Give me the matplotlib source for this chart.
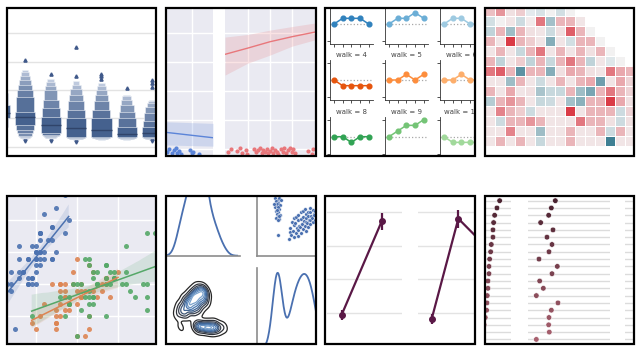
import numpy as np
import matplotlib
matplotlib.use("Agg")
import matplotlib.pyplot as plt
import seaborn as sns
from matplotlib.path import Path
from matplotlib.patches import PathPatch, Rectangle
from matplotlib.colors import LinearSegmentedColormap

# ---------------- data ----------------
# panel 1: letter-value (boxen) plot, levels listed inner -> outer
p1_pos = [0, 1, 2, 3, 4, 5, 6]
p1_median = [1.20, 1.045, 0.775, 0.657, 0.599, 0.446, 0.505]
p1_upper = [
    [1.48, 1.90, 2.20, 2.40],
    [1.244, 1.749, 2.007, 2.183, 2.359, 2.500, 2.617, 2.711],
    [1.045, 1.350, 1.655, 1.984, 2.124, 2.265, 2.383],
    [1.009, 1.303, 1.596, 1.831, 2.031, 2.183, 2.300],
    [1.009, 1.303, 1.596, 1.831, 2.007, 2.148, 2.242],
    [0.716, 1.009, 1.244, 1.479, 1.655, 1.772, 1.831],
    [0.716, 0.927, 1.185, 1.397, 1.538, 1.596, 1.655],
]
p1_lower = [
    [1.00, 0.70, 0.50, 0.40],
    [0.775, 0.599, 0.481, 0.399, 0.352, 0.329, 0.305, 0.293],
    [0.505, 0.434, 0.387, 0.352, 0.329, 0.317, 0.305],
    [0.364, 0.329, 0.305, 0.293, 0.282, 0.270, 0.258],
    [0.340, 0.317, 0.305, 0.293, 0.282, 0.270, 0.258],
    [0.340, 0.317, 0.305, 0.293, 0.282, 0.270, 0.258],
    [0.340, 0.317, 0.305, 0.293, 0.282, 0.270, 0.258],
]
p1_out_hi = [[], [3.063], [2.570], [2.50, 3.509], [2.383, 2.477, 2.570], [2.066], [2.101, 2.242, 2.359]]
p1_out_lo = [[], [0.20], [0.20], [0.176], [], [], [0.20]]
p1_grid = [0, 1, 2, 3, 4]

# panel 2: faceted logistic fits
p2_blue_fit_x = [28.5, 49.6]
p2_blue_fit_y = [0.115, 0.078]
p2_blue_lo = [0.028, 0.020]
p2_blue_hi = [0.188, 0.177]
p2_blue_x = [29.1, 30.0, 31.0, 32.1, 33.0, 33.6, 34.5, 35.1, 39.3, 40.0, 40.7, 43.4]
p2_blue_y = [-0.019, -0.002, -0.030, -0.007, 0.005, -0.025, -0.012, -0.034, -0.007, -0.030, -0.019, -0.034]
p2_red_fit_x = [9.8, 20, 30, 40, 50.6]
p2_red_fit_y = [0.653, 0.696, 0.740, 0.775, 0.808]
p2_red_lo = [0.510, 0.592, 0.648, 0.710, 0.755]
p2_red_hi = [0.772, 0.790, 0.820, 0.845, 0.870]
p2_red_x = [11.3, 12.3, 15.3, 16.5, 17.3, 19.2, 19.8, 22.8, 23.7, 24.7, 25.5, 26.2, 27.0, 27.7,
            28.5, 29.2, 30.0, 30.7, 31.5, 32.2, 33.0, 33.7, 34.8, 35.7, 36.3, 37.2, 38.2, 38.9,
            39.7, 40.4, 41.2, 47.2, 48.7, 49.4]
p2_red_y = [-0.018, -0.002, -0.011, 0.005, -0.030, -0.007, -0.034, -0.002, -0.018, -0.007,
            0.005, -0.025, -0.007, -0.018, -0.002, -0.030, -0.011, 0.005, -0.025, -0.007,
            -0.018, -0.034, -0.002, -0.018, 0.005, -0.025, -0.007, 0.005, -0.018, -0.002,
            -0.030, -0.011, -0.034, -0.002]

# panel 3: random walks on facets
p3_steps = [0, 1, 2, 3, 4]
p3_walk_ids = [[0, 1, 2], [4, 5, 6], [8, 9, 10]]
p3_walks = {
    0: [0, 1, 1, 1, 0], 1: [0, 1, 1, 2, 1], 2: [0, 1, 1, 0, 0],
    4: [0, -1, -1, -1, -1], 5: [0, 0, 1, 0, 1], 6: [0, 0, 1, 0, 0],
    8: [0, 0, -1, 0, 0], 9: [0, 1, 2, 2, 3], 10: [0, -1, -1, -1, -1],
}

# panel 4: lower-triangle correlation matrix (visible rows only)
p4_rows = [
    [0.08, 0.15, 0.03, 0.06, -0.02, -0.04, 0.00, -0.05, 0.00],
    [-0.05, 0.00, 0.02, -0.06, 0.01, 0.20, -0.13, 0.10, 0.10, 0.02],
    [-0.08, 0.10, -0.14, 0.10, 0.03, 0.02, -0.06, 0.03, 0.24, 0.10, 0.00],
    [0.10, 0.02, 0.30, 0.10, 0.06, 0.02, -0.18, 0.02, -0.05, 0.10, 0.10, 0.00],
    [0.02, 0.10, 0.02, -0.07, 0.10, 0.20, 0.02, 0.10, 0.02, 0.10, 0.03, 0.10, 0.00],
    [0.10, -0.08, 0.02, 0.06, -0.08, 0.10, -0.07, 0.10, 0.20, 0.10, -0.08, 0.02, -0.03, 0.00],
    [0.20, 0.24, 0.10, -0.25, 0.10, 0.10, -0.18, 0.03, 0.12, 0.10, 0.03, 0.02, 0.20, 0.12, 0.10],
    [0.02, 0.02, -0.14, 0.10, 0.02, -0.06, 0.02, 0.10, 0.02, 0.10, 0.12, -0.22, 0.02, 0.12, 0.05],
    [0.10, 0.02, 0.12, 0.02, 0.03, -0.12, -0.07, -0.07, 0.10, -0.14, -0.20, 0.10, 0.20, 0.10, 0.05],
    [-0.10, 0.10, 0.15, 0.10, 0.02, -0.07, -0.06, 0.02, -0.13, -0.17, 0.10, 0.10, 0.30, 0.12, 0.03],
    [0.02, 0.18, 0.10, 0.06, -0.06, 0.02, 0.02, 0.02, 0.30, 0.02, 0.10, 0.10, 0.10, -0.06, 0.05],
    [0.02, -0.06, 0.10, 0.10, 0.15, 0.10, 0.02, 0.02, 0.02, 0.20, 0.10, 0.10, 0.03, -0.06, 0.03],
    [0.02, 0.02, 0.18, 0.02, 0.02, -0.14, 0.02, 0.02, 0.10, 0.02, 0.02, 0.10, -0.06, 0.10, 0.02],
    [0.02, 0.10, 0.02, 0.10, 0.02, -0.07, 0.02, 0.02, 0.10, 0.02, 0.02, 0.02, -0.30, 0.02, 0.02],
]

# panel 5: iris sepal length / width
setosa_sl = [5.1, 4.9, 4.7, 4.6, 5.0, 5.4, 4.6, 5.0, 4.4, 4.9, 5.4, 4.8, 4.8, 4.3, 5.8, 5.7, 5.4, 5.1, 5.7, 5.1,
             5.4, 5.1, 4.6, 5.1, 4.8, 5.0, 5.0, 5.2, 5.2, 4.7, 4.8, 5.4, 5.2, 5.5, 4.9, 5.0, 5.5, 4.9, 4.4, 5.1,
             5.0, 4.5, 4.4, 5.0, 5.1, 4.8, 5.1, 4.6, 5.3, 5.0]
setosa_sw = [3.5, 3.0, 3.2, 3.1, 3.6, 3.9, 3.4, 3.4, 2.9, 3.1, 3.7, 3.4, 3.0, 3.0, 4.0, 4.4, 3.9, 3.5, 3.8, 3.8,
             3.4, 3.7, 3.6, 3.3, 3.4, 3.0, 3.4, 3.5, 3.4, 3.2, 3.1, 3.4, 4.1, 4.2, 3.1, 3.2, 3.5, 3.6, 3.0, 3.4,
             3.5, 2.3, 3.2, 3.5, 3.8, 3.0, 3.8, 3.2, 3.7, 3.3]
versicolor_sl = [7.0, 6.4, 6.9, 5.5, 6.5, 5.7, 6.3, 4.9, 6.6, 5.2, 5.0, 5.9, 6.0, 6.1, 5.6, 6.7, 5.6, 5.8, 6.2, 5.6,
                 5.9, 6.1, 6.3, 6.1, 6.4, 6.6, 6.8, 6.7, 6.0, 5.7, 5.5, 5.5, 5.8, 6.0, 5.4, 6.0, 6.7, 6.3, 5.6, 5.5,
                 5.5, 6.1, 5.8, 5.0, 5.6, 5.7, 5.7, 6.2, 5.1, 5.7]
versicolor_sw = [3.2, 3.2, 3.1, 2.3, 2.8, 2.8, 3.3, 2.4, 2.9, 2.7, 2.0, 3.0, 2.2, 2.9, 2.9, 3.1, 3.0, 2.7, 2.2, 2.5,
                 3.2, 2.8, 2.5, 2.8, 2.9, 3.0, 2.8, 3.0, 2.9, 2.6, 2.4, 2.4, 2.7, 2.7, 3.0, 3.4, 3.1, 2.3, 3.0, 2.5,
                 2.6, 3.0, 2.6, 2.3, 2.7, 3.0, 2.9, 2.9, 2.5, 2.8]
virginica_sl = [6.3, 5.8, 7.1, 6.3, 6.5, 7.6, 4.9, 7.3, 6.7, 7.2, 6.5, 6.4, 6.8, 5.7, 5.8, 6.4, 6.5, 7.7, 7.7, 6.0,
                6.9, 5.6, 7.7, 6.3, 6.7, 7.2, 6.2, 6.1, 6.4, 7.2, 7.4, 7.9, 6.4, 6.3, 6.1, 7.7, 6.3, 6.4, 6.0, 6.9,
                6.7, 6.9, 5.8, 6.8, 6.7, 6.7, 6.3, 6.5, 6.2, 5.9]
virginica_sw = [3.3, 2.7, 3.0, 2.9, 3.0, 3.0, 2.5, 2.9, 2.5, 3.6, 3.2, 2.7, 3.0, 2.5, 2.8, 3.2, 3.0, 3.8, 2.6, 2.2,
                3.2, 2.8, 2.8, 2.7, 3.3, 3.2, 2.8, 3.0, 2.8, 3.0, 2.8, 3.8, 2.8, 2.8, 2.6, 3.0, 3.4, 3.1, 3.0, 3.1,
                3.1, 3.1, 2.7, 3.2, 3.3, 3.0, 2.5, 3.0, 3.4, 3.0]

# panel 6: two-cluster sample for the pair grid
p6_big_b = [4.0, 4.1, 4.3, 4.2, 4.4, 4.6, 4.5, 4.7, 4.6, 4.9, 5.0, 4.8, 4.9, 5.2, 5.1, 5.3, 5.2, 5.2,
            5.5, 5.4, 5.6, 5.5, 5.5, 5.8, 5.7, 5.9, 5.8, 5.8, 6.1, 6.0, 6.2, 6.1, 6.1, 6.0, 6.4, 6.3,
            6.5, 6.4, 6.4, 6.7, 6.6, 6.8, 6.7, 6.7, 7.0, 6.9, 7.1, 7.0, 7.3, 7.2, 7.3, 7.6, 7.5]
p6_big_a = [2.1, 3.0, 2.6, 3.4, 4.2, 2.3, 3.1, 3.8, 4.7, 2.8, 3.5, 4.1, 4.8, 2.5, 3.2, 3.7, 4.4, 5.1,
            2.9, 3.6, 4.0, 4.6, 5.4, 3.3, 3.9, 4.3, 4.8, 5.6, 3.1, 3.7, 4.2, 4.7, 5.2, 5.8, 3.6, 4.1,
            4.5, 5.0, 5.5, 3.9, 4.4, 4.9, 5.4, 5.9, 4.2, 4.7, 5.2, 5.7, 4.5, 5.1, 5.6, 4.8, 5.4]
p6_small_b = [2.3, 2.6, 2.8, 2.4, 2.7, 2.5, 2.9, 2.3, 2.6, 2.8, 2.4, 2.7, 2.5, 2.9, 2.6, 2.4, 2.8, 2.6,
              3.0, 2.2, 2.7, 2.5, 2.8, 2.6, 2.5, 2.7]
p6_small_a = [7.2, 7.0, 7.2, 6.8, 6.6, 6.4, 6.3, 6.1, 5.9, 5.8, 5.6, 5.4, 5.2, 5.1, 4.9, 4.7, 4.6, 4.4,
              6.9, 6.5, 6.1, 5.7, 5.0, 2.6, 7.7, 8.0]

# panel 7: point plot facets
p7_left_x = [0, 1]
p7_left_y = [0.95, 3.72]
p7_left_err = [0.15, 0.25]
p7_right_x = [0, 1, 2]
p7_right_y = [0.82, 3.80, 3.00]
p7_right_err = [0.14, 0.27, 0.20]

# panel 8: dot plot, two visible columns
p8_rows = list(range(20))
p8_col1 = [21.43, 20.61, 19.90, 19.59, 19.39, 19.39, 18.88, 18.68, 18.37, 18.17,
           18.17, 17.86, 17.86, 17.65, 17.55, 17.45, 17.04, 16.70, 16.40, 16.10]
p8_col2 = [8.36, 7.14, 6.32, 3.87, 7.65, 5.81, 7.34, 6.42, 3.36, 8.97,
           7.34, 3.57, 4.69, 2.55, 9.17, 7.14, 6.42, 6.32, 6.52, 2.55]

# ---------------- layout ----------------
W, H = 640, 352
fig = plt.figure(figsize=(6.4, 3.52), dpi=100)
fig.patch.set_facecolor("white")

FRAMES = [(7, 7.5, 156, 156), (166, 7.5, 315.5, 156), (325, 7.5, 474.5, 156), (485, 7.5, 634, 156),
          (7, 195.5, 156, 344), (166, 195.5, 315.5, 344), (325, 195.5, 474.5, 344), (485, 195.5, 634, 344)]


def px_axes(x0, y0, x1, y1):
    a = fig.add_axes([x0 / W, 1 - y1 / H, (x1 - x0) / W, (y1 - y0) / H])
    a.patch.set_alpha(0)
    return a


def bare(ax):
    for s in ax.spines.values():
        s.set_visible(False)
    ax.tick_params(length=0, labelbottom=False, labelleft=False)
    ax.set_xlabel("")
    ax.set_ylabel("")


# ---- panel 1: boxen plot
ax = px_axes(7, 7.5, 156, 156)
ax.set_xlim(0.28, 6.15)
ax.set_ylim(-0.32, 4.9)
ax.set_xticks([])
ax.set_yticks(p1_grid)
ax.yaxis.grid(True, color="#e3e3e3", lw=1)
ax.set_axisbelow(True)
bare(ax)
boxcmap = LinearSegmentedColormap.from_list("boxen", ["#45618e", "#bfcade"])
for x, med, up, lo, oh, ol in zip(p1_pos, p1_median, p1_upper, p1_lower, p1_out_hi, p1_out_lo):
    n = len(up)
    for j in range(n - 1, -1, -1):
        w = 0.8 * (1 - j / (n + 2))
        ax.bar(x, up[j] - lo[j], bottom=lo[j], width=w, color=boxcmap(j / (n - 1)),
               edgecolor="#eef1f6", linewidth=0.4, zorder=2)
    ax.hlines(med, x - 0.4, x + 0.4, color="#30446a", lw=1, zorder=3)
    ax.plot([x] * len(oh), oh, "^", ms=2.3, color="#40598a", zorder=3)
    ax.plot([x] * len(ol), ol, "v", ms=2.3, color="#40598a", zorder=3)

# ---- panel 2: faceted logistic regression
axl = px_axes(166, 7.5, 213, 156)
axr = px_axes(225, 7.5, 315.5, 156)
for a in (axl, axr):
    a.patch.set_alpha(1)
    a.set_facecolor("#eaeaf2")
    a.set_ylim(-0.048, 0.976)
    a.set_yticks([0, 0.2, 0.4, 0.6, 0.8])
    a.grid(True, color="white", lw=1)
    a.set_axisbelow(True)
    bare(a)
axl.set_xlim(28.5, 49.6)
axl.set_xticks([40])
axr.set_xlim(9.8, 50.4)
axr.set_xticks([20, 30, 40])
blue, red = "#5b84d8", "#e8777b"
axl.fill_between(p2_blue_fit_x, p2_blue_lo, p2_blue_hi, color=blue, alpha=0.2, lw=0)
axl.plot(p2_blue_fit_x, p2_blue_fit_y, color=blue, lw=1)
axl.scatter(p2_blue_x, p2_blue_y, s=9, color=blue, lw=0)
axr.fill_between(p2_red_fit_x, p2_red_lo, p2_red_hi, color=red, alpha=0.2, lw=0)
axr.plot(p2_red_fit_x, p2_red_fit_y, color=red, lw=1)
axr.scatter(p2_red_x, p2_red_y, s=9, color=red, lw=0)

# ---- panel 3: facet grid of walks
tab = plt.get_cmap("tab20c").colors
zeros = [24, 80, 136.7]
for r, ids in enumerate(p3_walk_ids):
    for c, wid in enumerate(ids):
        x0 = 330 + 55 * c
        a = px_axes(x0, zeros[r] - 19.85, x0 + 42.7, zeros[r] + 19.85)
        a.set_xlim(-0.46, 4.46)
        a.set_ylim(-3.5, 3.5)
        a.axhline(0, ls=":", color="#a8a8a8", lw=0.9)
        a.plot(p3_steps, p3_walks[wid], marker="o", ms=3.4, lw=1.1, color=tab[wid])
        a.set_xticks(p3_steps)
        a.set_yticks([-3, 3])
        a.tick_params(length=2.5, width=0.6, color="#333333", labelbottom=False, labelleft=False)
        a.spines[["top", "right"]].set_visible(False)
        for s in ("left", "bottom"):
            a.spines[s].set_linewidth(0.6)
            a.spines[s].set_color("#333333")
        if r > 0:  # first-row titles sit above the frame
            a.set_title(f"walk = {wid}", fontsize=5, color="#444444", pad=2)

# ---- panel 4: correlation heatmap
ax = px_axes(484.7, 6, 634.7, 146)
ax.set_position([484.7 / W, 1 - 146 / H, 150 / W, 140 / H])
grid = np.full((14, 15), np.nan)
for i, row in enumerate(p4_rows):
    grid[i, :len(row)] = row
ax.pcolormesh(np.ma.masked_invalid(grid), cmap=sns.diverging_palette(220, 10, as_cmap=True),
              vmin=-0.3, vmax=0.3, edgecolors="white", linewidth=0.6)
ax.set_xlim(0, 15)
ax.set_ylim(14, 0)
ax.set_axis_off()

# ---- panel 5: iris regressions
ax = px_axes(7, 195.5, 155.5, 343.5)
ax.patch.set_alpha(1)
ax.set_facecolor("#eaeaf2")
for sl, sw, col in [(setosa_sl, setosa_sw, "#4c72b0"), (versicolor_sl, versicolor_sw, "#dd8452"),
                    (virginica_sl, virginica_sw, "#55a868")]:
    sns.regplot(x=np.array(sl), y=np.array(sw), ax=ax, color=col, truncate=True, seed=0,
                scatter_kws=dict(s=13, linewidths=0, alpha=0.9), line_kws=dict(lw=1.1))
ax.set_xlim(4.30, 7.91)
ax.set_ylim(2.076, 4.39)
ax.set_xticks([5, 6, 7])
ax.set_yticks([2.5, 3.0, 3.5, 4.0])
ax.grid(True, color="white", lw=1)
ax.set_axisbelow(True)
bare(ax)

# ---- panel 6: pair grid
p6_a = p6_big_a + p6_small_a
p6_b = p6_big_b + p6_small_b
A00 = px_axes(160, 175.7, 240, 255.7)
A01 = px_axes(256.7, 175.7, 315.5, 255.7)
A10 = px_axes(160, 268, 240, 348)
A11 = px_axes(256.7, 268, 315.5, 348)
b_right = (315.5 - 256.7) / 8
pcol = "#4a70b0"
sns.kdeplot(x=p6_a, ax=A00, color=pcol, lw=1.3, bw_adjust=1.0)
A00.set_xlim(0, 10)
A00.set_ylim(0, A00.lines[0].get_ydata().max() * 0.76)
A01.scatter(p6_b, p6_a, s=7, color=pcol, edgecolor="white", linewidths=0.3)
A01.set_xlim(0, b_right)
A01.set_ylim(0, 10)
kcmap = LinearSegmentedColormap.from_list("kd", ["#262626", "#3a4250", "#406ea8", "#9cc0e0"])
sns.kdeplot(x=p6_a, y=p6_b, ax=A10, cmap=kcmap, levels=9, linewidths=0.9, bw_adjust=0.6)
A10.set_xlim(0, 10)
A10.set_ylim(0, 10)
sns.kdeplot(x=p6_b, ax=A11, color=pcol, lw=1.3, bw_adjust=0.8)
A11.set_xlim(0, b_right)
A11.set_ylim(0, A11.lines[0].get_ydata().max() / 0.94)
for a in (A00, A01, A10, A11):
    a.spines[["top", "right"]].set_visible(False)
    for s in ("left", "bottom"):
        a.spines[s].set_color("#8c8c8c")
        a.spines[s].set_linewidth(1.2)
    a.tick_params(length=0, labelbottom=False, labelleft=False)
    a.set_xlabel("")
    a.set_ylabel("")

# ---- panel 7: point plot facets
pp = "#5a1846"
for box, xl, xs, ys, es in [((326.7, 401.7), (-0.375, 1.5), p7_left_x, p7_left_y, p7_left_err),
                            ((418.3, 474.5), (-0.5, 1.605), p7_right_x, p7_right_y, p7_right_err)]:
    a = px_axes(box[0], 195.5, box[1], 343.5)
    a.set_xlim(*xl)
    a.set_ylim(0.095, 4.487)
    a.set_xticks([])
    a.set_yticks([1, 2, 3, 4])
    a.yaxis.grid(True, color="#e3e3e3", lw=1)
    a.set_axisbelow(True)
    bare(a)
    a.errorbar(xs, ys, yerr=es, color=pp, lw=1.6, marker="o", ms=4, elinewidth=1.6, capsize=0)

# ---- panel 8: dot plot
dcmap = LinearSegmentedColormap.from_list("dots", ["#4a2230", "#a8606e"])
dot_colors = [dcmap(i / (len(p8_rows) - 1)) for i in range(len(p8_rows))]
col1_left = 25 * (484.7 - 429.6) / 81.7
for (x0, x1), xl, vals in [((484.7, 511.3), (col1_left, 25), p8_col1),
                           ((528, 609.7), (0, 25), p8_col2),
                           ((624.7, 706.4), (0, 25), None)]:
    a = px_axes(x0, 195.5, x1, 343.5)
    a.set_xlim(*xl)
    a.set_ylim(19.56, -0.71)
    a.set_xticks([])
    a.set_yticks(p8_rows)
    a.yaxis.grid(True, color="#dcdcdc", lw=1)
    a.set_axisbelow(True)
    bare(a)
    if vals is not None:
        a.scatter(vals, p8_rows, s=16, c=dot_colors, edgecolors="white", linewidths=0.4, zorder=3)

# ---- white mask outside the frames, then the frames
mask = fig.add_axes([0, 0, 1, 1], zorder=100)
mask.set_xlim(0, W)
mask.set_ylim(H, 0)
mask.set_axis_off()
verts, codes = [], []
for k, (x0, y0, x1, y1) in enumerate([(0, 0, W, H)] + FRAMES):
    v = [(x0, y0), (x1, y0), (x1, y1), (x0, y1), (x0, y0)]
    if k > 0:
        v = v[::-1]
    verts += v
    codes += [Path.MOVETO, Path.LINETO, Path.LINETO, Path.LINETO, Path.CLOSEPOLY]
mask.add_patch(PathPatch(Path(verts, codes), facecolor="white", edgecolor="none"))
for x0, y0, x1, y1 in FRAMES:
    mask.add_patch(Rectangle((x0, y0), x1 - x0, y1 - y0, fill=False, edgecolor="black", lw=1.6))

fig.savefig("out.png", dpi=100)
